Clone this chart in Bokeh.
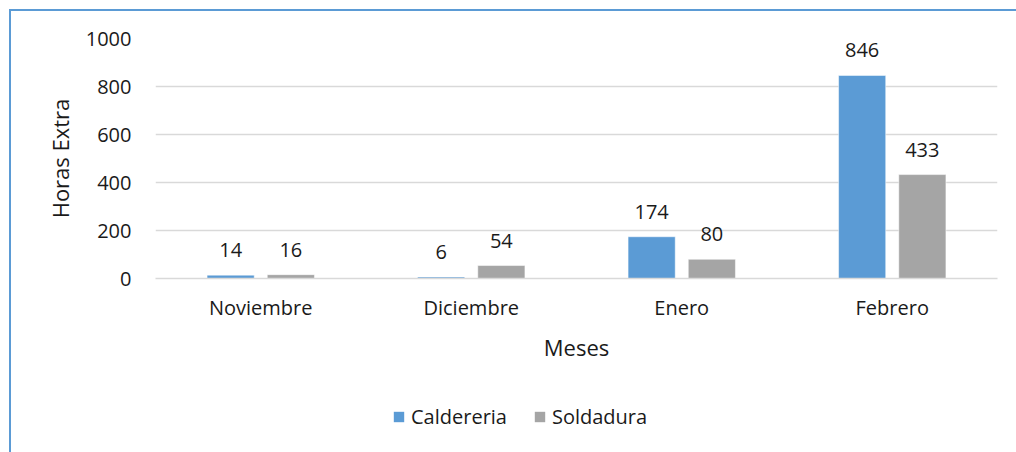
from bokeh.plotting import figure
from bokeh.models import FactorRange, Range1d, ColumnDataSource, LabelSet, Legend, LegendItem, FixedTicker, Column
from bokeh.core.properties import value
from bokeh.transform import dodge
from bokeh.embed import file_html
from bokeh.resources import INLINE

months = ["Noviembre", "Diciembre", "Enero", "Febrero"]
caldereria = [14, 6, 174, 846]
soldadura = [16, 54, 80, 433]
y_ticks = [0, 200, 400, 600, 800, 1000]
series_names = ["Caldereria", "Soldadura"]

FONT = "Open Sans"
BLUE = "#5b9bd5"
GRAY = "#a5a5a5"
TXT = "#1a1a1a"

src = ColumnDataSource(dict(
    month=months, cal=caldereria, sol=soldadura,
    cal_t=[str(v) for v in caldereria], sol_t=[str(v) for v in soldadura],
))

xr = FactorRange(factors=months, range_padding=0)
yr = Range1d(0, 1000)

p = figure(x_range=xr, y_range=yr,
           width=1005, height=374, output_backend="svg", toolbar_location=None,
           min_border_left=144, min_border_right=19, min_border_top=27, min_border_bottom=107)
p.outline_line_color = None
p.background_fill_color = "white"
p.border_fill_color = "white"

r1 = p.vbar(x=dodge("month", -0.143, range=xr), top="cal", width=0.224, source=src,
            fill_color=BLUE, line_color="white", line_width=0.5)
r2 = p.vbar(x=dodge("month", 0.143, range=xr), top="sol", width=0.224, source=src,
            fill_color=GRAY, line_color="white", line_width=0.5)

for col, txt, off in (("cal", "cal_t", -0.143), ("sol", "sol_t", 0.143)):
    ls = LabelSet(x=dodge("month", off, range=xr), y=col, text=txt, source=src,
                  text_align="center", text_baseline="alphabetic", y_offset=18,
                  text_font=value(FONT), text_font_size="20px", text_color=TXT)
    p.add_layout(ls)

p.xgrid.grid_line_color = None
p.ygrid.grid_line_color = "#d9d9d9"
p.ygrid.grid_line_width = 1.5
p.yaxis.ticker = FixedTicker(ticks=y_ticks)

for ax in (p.xaxis[0], p.yaxis[0]):
    ax.major_tick_line_color = None
    ax.minor_tick_line_color = None
    ax.major_label_text_font = FONT
    ax.major_label_text_font_size = "20px"
    ax.major_label_text_color = TXT
    ax.axis_label_text_font = FONT
    ax.axis_label_text_font_size = "22px"
    ax.axis_label_text_font_style = "normal"
    ax.axis_label_text_color = TXT

p.yaxis.axis_line_color = None
p.yaxis.major_label_standoff = 18
p.yaxis.axis_label = "Horas Extra"
p.yaxis.axis_label_standoff = 8

p.xaxis.axis_line_color = "#d9d9d9"
p.xaxis.axis_line_width = 1.5
p.xaxis.major_label_standoff = 9
p.xaxis.axis_label = "Meses"
p.xaxis.axis_label_standoff = 8

# Legend strip (shares the ranges; its bar renderers are hidden, only the legend shows)
lg = figure(width=1005, height=67, output_backend="svg", toolbar_location=None,
            x_range=xr, y_range=yr,
            min_border=0, min_border_left=0, min_border_right=0, min_border_top=0, min_border_bottom=0)
lg.axis.visible = False
lg.grid.visible = False
lg.outline_line_color = None
lg.background_fill_color = "white"
lg.border_fill_color = "white"
e1 = lg.vbar(x=dodge("month", -0.143, range=xr), top="cal", width=0.224, source=src,
             fill_color=BLUE, line_color=None, visible=False)
e2 = lg.vbar(x=dodge("month", 0.143, range=xr), top="sol", width=0.224, source=src,
             fill_color=GRAY, line_color=None, visible=False)
legend = Legend(items=[LegendItem(label=series_names[0], renderers=[e1]),
                       LegendItem(label=series_names[1], renderers=[e2])],
                orientation="horizontal", location=(237, 22), click_policy="none",
                label_text_font=FONT, label_text_font_size="20px", label_text_color=TXT,
                glyph_width=13, glyph_height=13, label_standoff=6, spacing=26,
                inactive_fill_alpha=0,
                padding=0, margin=0, border_line_color=None, background_fill_alpha=0)
lg.add_layout(legend, "center")

layout = Column(children=[p, lg], spacing=0,
                styles={"margin-left": "9px", "margin-top": "9px",
                        "border-left": "2px solid #5b9bd5", "border-top": "2px solid #5b9bd5"})

open("out.html", "w").write(file_html(layout, INLINE))
